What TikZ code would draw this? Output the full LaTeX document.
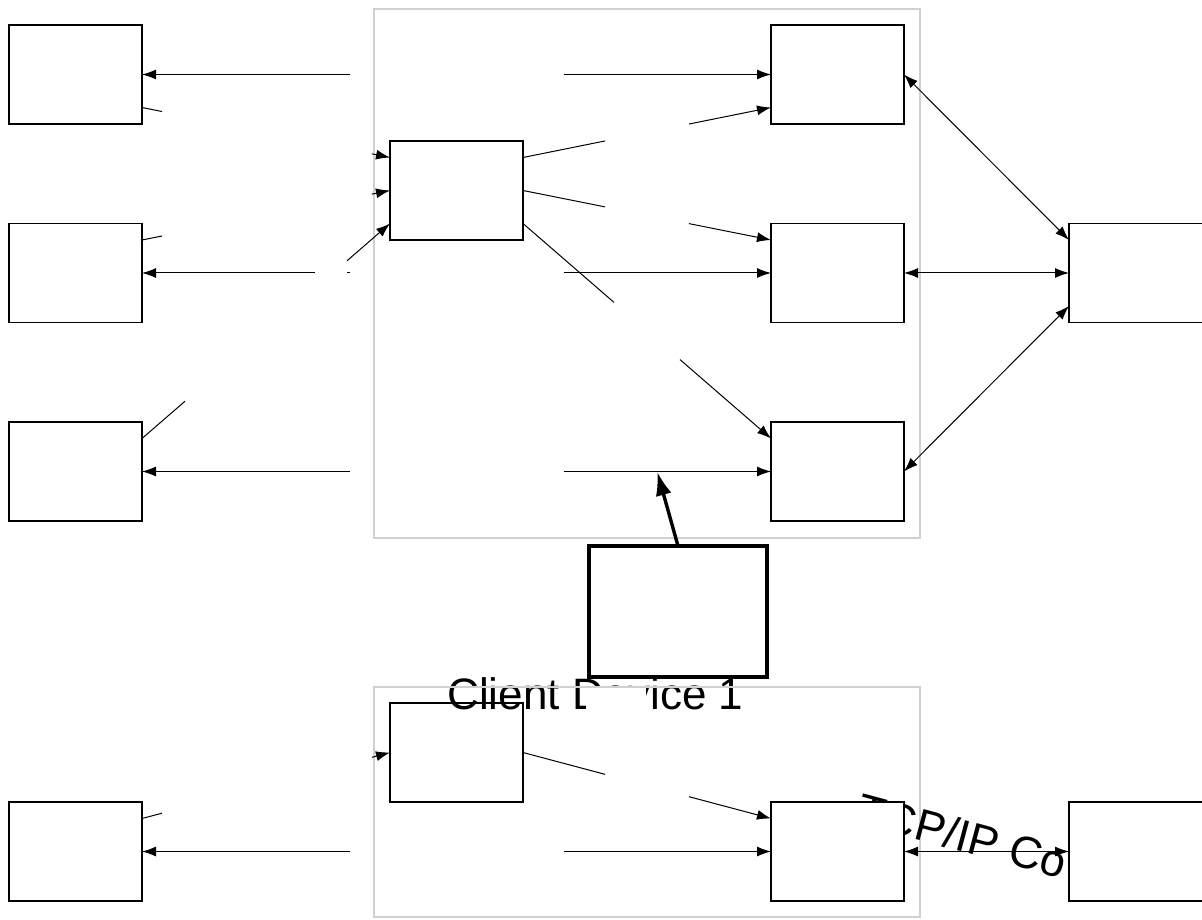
\documentclass[tikz,border=0pt]{standalone}
\usepackage{fontspec}
\setmainfont{Liberation Sans}
\usetikzlibrary{arrows.meta, calc, math}
\definecolor{qframe}{RGB}{208,208,208}

\begin{document}
\begin{tikzpicture}[x=0.5pt, y=-0.5pt,
 box/.style={draw, fill=white, line width=0.6pt, minimum width=66.5pt, minimum height=49.5pt, inner sep=0pt, outer sep=0pt},
 hub/.style={minimum width=107pt, minimum height=2pt, inner sep=0pt, outer sep=0pt},
 frame/.style={draw=qframe, line width=0.8pt},
 con/.style={line width=0.5pt},
 arr/.style={con, -{Latex[length=7pt,width=5pt]}},
 darr/.style={con, {Latex[length=7pt,width=5pt]}-{Latex[length=7pt,width=5pt]}},
 lbl/.style={font=\fontsize{22}{26}\selectfont, inner sep=0pt}]

\tikzmath{
\port = 16.5;% port offset
\gapA = 0.081;% gaps left side
\gapB = 0.927;
\gapC = 0.173;
\gapD = 0.827;
\gapE = 0.331;% gaps right side
\gapF = 0.669;
\gapG = 0.367;
\gapH = 0.633;
}

\useasboundingbox (0,0) rectangle (1202,919);

%frames:
\draw[frame] (374,9) rectangle (920,538);

%group 1 boxes
\node[box] (L1) at (75.5,74.5) {};
\node[box] (L2) at (75.5,273) {};
\node[box] (L3) at (75.5,471.5) {};
\node[box] (A) at (456.5,190.5) {};
\node[box] (R1) at (837.5,74.5) {};
\node[box] (R2) at (837.5,273) {};
\node[box] (R3) at (837.5,471.5) {};
\node[box, minimum width=70pt] (S1) at (1139,273) {};
\node[hub] (P1) at (457,74.5) {};
\node[hub] (P2) at (457,273) {};
\node[hub] (P3) at (457,471.5) {};

\node[box, line width=1.7pt, minimum width=89pt, minimum height=65.5pt] (TB) at (678,611.5) {};

%group 2 boxes
\node[box] (L4) at (75.5,851.5) {};
\node[box] (B) at (456.5,752.5) {};
\node[hub] (P4) at (457,851.5) {};

\node[lbl, anchor=base west] (cd) at (447,709) {Client Device 1};
\fill[white] (586,686) rectangle (646,714);
\draw[frame] (374,687) rectangle (920,917);

\node[lbl, font=\fontsize{22.5}{26}\selectfont, anchor=base west, rotate=-15] (tcp) at (854,823) {TCP/IP Co};
\node[box] (R4) at (837.5,851.5) {};
\node[box, minimum width=70pt] (S2) at (1139,851.5) {};

\foreach \n in {L1,L2,L3,L4,A,B,R1,R2,R3,R4,S1,S2}{
 \coordinate (\n-e1) at ([yshift=\port pt]\n.east);
 \coordinate (\n-e3) at ([yshift=-\port pt]\n.east);
 \coordinate (\n-w1) at ([yshift=\port pt]\n.west);
 \coordinate (\n-w3) at ([yshift=-\port pt]\n.west);
}

%hub outputs
\draw[arr] (P1.west) -- (L1.east);
\draw[arr] (P1.east) -- (R1.west);
\draw[con] (P2.west) -- ($(P2.west)!0.014!(L2.east)$);
\draw[arr] ($(P2.west)!0.168!(L2.east)$) -- (L2.east);
\draw[arr] (P2.east) -- (R2.west);
\draw[arr] (P3.west) -- (L3.east);
\draw[arr] (P3.east) -- (R3.west);
\draw[arr] (P4.west) -- (L4.east);
\draw[arr] (P4.east) -- (R4.west);

%left boxes to A and B
\draw[con] (L1-e3) -- ($(L1-e3)!\gapA!(A-w1)$);
\draw[arr] ($(L1-e3)!\gapB!(A-w1)$) -- (A-w1);
\draw[con] (L2-e1) -- ($(L2-e1)!\gapA!(A.west)$);
\draw[arr] ($(L2-e1)!\gapB!(A.west)$) -- (A.west);
\draw[con] (L3-e1) -- ($(L3-e1)!\gapC!(A-w3)$);
\draw[arr] ($(L3-e1)!\gapD!(A-w3)$) -- (A-w3);
\draw[con] (L4-e1) -- ($(L4-e1)!\gapA!(B.west)$);
\draw[arr] ($(L4-e1)!\gapB!(B.west)$) -- (B.west);

%A and B to right boxes
\draw[con] (A-e1) -- ($(A-e1)!\gapE!(R1-w3)$);
\draw[arr] ($(A-e1)!\gapF!(R1-w3)$) -- (R1-w3);
\draw[con] (A.east) -- ($(A.east)!\gapE!(R2-w1)$);
\draw[arr] ($(A.east)!\gapF!(R2-w1)$) -- (R2-w1);
\draw[con] (A-e3) -- ($(A-e3)!\gapG!(R3-w1)$);
\draw[arr] ($(A-e3)!\gapH!(R3-w1)$) -- (R3-w1);
\draw[con] (B.east) -- ($(B.east)!\gapE!(R4-w1)$);
\draw[arr] ($(B.east)!\gapF!(R4-w1)$) -- (R4-w1);

%server links
\draw[darr] (R1.east) -- (S1-w1);
\draw[darr] (R2.east) -- (S1.west);
\draw[darr] (R3.east) -- (S1-w3);
\draw[darr] (R4.east) -- (S2.west);

\draw[line width=1.7pt, -{Latex[length=12pt,width=8pt]}] (TB.north) -- ($(P3.east)!0.45!(R3.west)$);

\end{tikzpicture}
\end{document}
